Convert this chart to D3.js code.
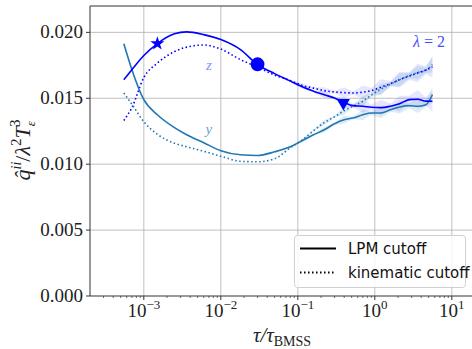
<!DOCTYPE html>
<meta charset="utf-8">
<style>
body { margin: 0; background: #fff; }
.serif { font-family: "Liberation Serif", "DejaVu Serif", serif; }
.grid line { stroke: #b0b0b0; stroke-width: 0.8px; }
</style>
<body>
<svg id="chart" width="472" height="349"></svg>
<script src="https://d3js.org/d3.v7.min.js"></script>
<script>

// time grid (tau / tau_BMSS) shared by all four curves
var tau = [5.5e-4, 7e-4, 1e-3, 1.5e-3, 2.5e-3, 3.6e-3, 6e-3, 1e-2, 1.8e-2, 3e-2, 5e-2, 8e-2,
           0.12, 0.16, 0.22, 0.3, 0.4, 0.52, 0.7, 0.9, 1.2, 1.6, 2.1, 2.8, 3.6, 4.6, 5.6];

// z direction
var zLPM = [0.01641, 0.01717, 0.01824, 0.01915, 0.01989, 0.02004, 0.01983, 0.01945, 0.01869, 0.01755, 0.01687, 0.01630,
            0.01581, 0.01554, 0.01527, 0.01502, 0.01468, 0.01444, 0.01440, 0.01432, 0.01429, 0.01440, 0.01459, 0.01490, 0.01493, 0.01478, 0.01477];
var zKin = [0.01332, 0.01429, 0.01657, 0.01767, 0.01854, 0.01888, 0.01904, 0.01873, 0.01793, 0.01736, 0.01676, 0.01634,
            0.01594, 0.01577, 0.01558, 0.01548, 0.01543, 0.01540, 0.01546, 0.01558, 0.01584, 0.01611, 0.01641, 0.01668, 0.01691, 0.01714, 0.01738];
// y direction
var yLPM = [0.01913, 0.01717, 0.01489, 0.01375, 0.01277, 0.01223, 0.01163, 0.01102, 0.01071, 0.01066, 0.01094, 0.01132,
            0.01185, 0.01223, 0.01261, 0.01307, 0.01337, 0.01350, 0.01375, 0.01388, 0.01388, 0.01413, 0.01434, 0.01444, 0.01439, 0.01451, 0.01527];
var yKin = [0.01540, 0.01455, 0.01322, 0.01227, 0.01159, 0.01132, 0.01098, 0.01060, 0.01022, 0.01018, 0.01041, 0.01125,
            0.01193, 0.01254, 0.01315, 0.01360, 0.01406, 0.01440, 0.01478, 0.01524, 0.01569, 0.01607, 0.01641, 0.01672, 0.01695, 0.01712, 0.01755];

// error band half widths (noisy at late times)
var spreadZ = [0, 0, 0, 0, 0, 0, 0, 0, 0, 0, 0.00003, 0.00006,
               0.00015, 0.00005, 0.00025, 0.0001, 0.0004, 0.00012, 0.0005, 0.0002, 0.0006, 0.0002, 0.0006, 0.0003, 0.0007, 0.0003, 0.0008];
var spreadY = [0, 0, 0, 0, 0, 0, 0, 0, 0, 0, 0.00002, 0.00005,
               0.0001, 0.00005, 0.0002, 0.00008, 0.0003, 0.0001, 0.0004, 0.00015, 0.0004, 0.00015, 0.0005, 0.0002, 0.0005, 0.0002, 0.0006];

// markers on the z / LPM curve
var markTau = [1.5e-3, 3e-2, 0.39];
var markVal = [0.01915, 0.01758, 0.01465];
var markShape = ["star", "circle", "tri"];

var xTicks = [1e-3, 1e-2, 1e-1, 1, 10];
var xTickExp = ["\u22123", "\u22122", "\u22121", "0", "1"];
var yTicks = [0, 0.005, 0.010, 0.015, 0.020];

var blue = "#0000ff", teal = "#1f77b4";
var dotted = "1.5,2.5";

var svg = d3.select("#chart");
var pLeft = 90, pRight = 475, pTop = 6, pBottom = 296;

var x = d3.scaleLog().domain([2e-4, 20]).range([pLeft, pRight]);
var y = d3.scaleLinear().domain([0, 0.022]).range([pBottom, pTop]);

svg.append("defs").append("clipPath").attr("id", "clip")
  .append("rect").attr("x", pLeft).attr("y", pTop).attr("width", pRight - pLeft).attr("height", pBottom - pTop);

// grid
var grid = svg.append("g").attr("class", "grid");
grid.selectAll(".gx").data(xTicks).enter().append("line")
  .attr("x1", d => x(d)).attr("x2", d => x(d)).attr("y1", pTop).attr("y2", pBottom);
grid.selectAll(".gy").data(yTicks.slice(1)).enter().append("line")
  .attr("x1", pLeft).attr("x2", pRight).attr("y1", d => y(d)).attr("y2", d => y(d));

var plot = svg.append("g").attr("clip-path", "url(#clip)");

var pts = function(vals, spread) {
  return tau.map(function(t, i) { return {t: t, v: vals[i], s: spread ? spread[i] : 0}; });
};

var area = d3.area().x(d => x(d.t)).y0(d => y(d.v - d.s)).y1(d => y(d.v + d.s));
var line = d3.line().x(d => x(d.t)).y(d => y(d.v)).curve(d3.curveMonotoneX);

var series = [
  {vals: zKin, spread: spreadZ, color: blue, fill: "rgba(100,100,255,0.16)", dash: dotted},
  {vals: yKin, spread: spreadY, color: teal, fill: "rgba(31,119,180,0.14)", dash: dotted},
  {vals: yLPM, spread: spreadY, color: teal, fill: "rgba(31,119,180,0.14)", dash: null},
  {vals: zLPM, spread: spreadZ, color: blue, fill: "rgba(100,100,255,0.16)", dash: null}
];

series.forEach(function(s) {
  plot.append("path").datum(pts(s.vals, s.spread))
    .attr("d", area).attr("fill", s.fill).attr("stroke", "none");
});
series.forEach(function(s) {
  plot.append("path").datum(pts(s.vals))
    .attr("d", line).attr("fill", "none").attr("stroke", s.color)
    .attr("stroke-width", 1.6)
    .attr("stroke-dasharray", s.dash);
});

// markers
var symFor = {star: d3.symbol().type(d3.symbolStar).size(62),
              circle: d3.symbol().type(d3.symbolCircle).size(150),
              tri: d3.symbol().type(d3.symbolTriangle).size(75)};
markTau.forEach(function(t, i) {
  plot.append("path").attr("d", symFor[markShape[i]]())
    .attr("transform", "translate(" + x(t) + "," + y(markVal[i]) + ")" + (markShape[i] == "tri" ? " rotate(180)" : ""))
    .attr("fill", blue);
});

// curve labels
plot.append("text").attr("class", "serif").attr("x", x(7e-3)).attr("y", y(0.01743) + 4)
  .attr("text-anchor", "middle").attr("font-size", 15).attr("font-style", "italic")
  .attr("fill", "rgba(60,60,255,0.6)").text("z");
plot.append("text").attr("class", "serif").attr("x", x(7e-3)).attr("y", y(0.01262) + 4)
  .attr("text-anchor", "middle").attr("font-size", 15).attr("font-style", "italic")
  .attr("fill", "rgba(31,119,180,0.7)").text("y");

var lam = svg.append("text").attr("class", "serif").attr("x", 445).attr("y", 47)
  .attr("text-anchor", "end").attr("font-size", 16).attr("fill", "#4a4aff");
lam.append("tspan").attr("font-style", "italic").text("\u03bb");
lam.append("tspan").text(" = 2");

// spines
svg.append("line").attr("x1", pLeft).attr("x2", pLeft).attr("y1", pTop).attr("y2", pBottom).attr("stroke", "#333").attr("stroke-width", 1);
svg.append("line").attr("x1", pLeft).attr("x2", pRight).attr("y1", pBottom).attr("y2", pBottom).attr("stroke", "#333").attr("stroke-width", 1);
svg.append("line").attr("x1", pLeft).attr("x2", pRight).attr("y1", pTop).attr("y2", pTop).attr("stroke", "#333").attr("stroke-width", 1);

// y ticks
yTicks.forEach(function(d) {
  svg.append("line").attr("x1", pLeft - 4).attr("x2", pLeft).attr("y1", y(d)).attr("y2", y(d)).attr("stroke", "#333");
  svg.append("text").attr("class", "serif").attr("x", pLeft - 7).attr("y", y(d) + 6)
    .attr("text-anchor", "end").attr("font-size", 19).attr("fill", "#222").text(d3.format(".3f")(d));
});

// x ticks, major and minor
var minor = [];
for (var e = -4; e <= 1; e++) {
  for (var m = 2; m <= 9; m++) {
    var v = m * Math.pow(10, e);
    if (v > 2e-4 && v < 20) minor.push(v);
  }
}
minor.forEach(function(d) {
  svg.append("line").attr("x1", x(d)).attr("x2", x(d)).attr("y1", pBottom).attr("y2", pBottom + 2).attr("stroke", "#333").attr("stroke-width", 0.7);
});
xTicks.forEach(function(d, i) {
  svg.append("line").attr("x1", x(d)).attr("x2", x(d)).attr("y1", pBottom).attr("y2", pBottom + 4).attr("stroke", "#333");
  var t = svg.append("text").attr("class", "serif").attr("x", x(d)).attr("y", 317)
    .attr("text-anchor", "middle").attr("font-size", 19).attr("fill", "#222");
  t.append("tspan").text("10");
  t.append("tspan").attr("font-size", 13).attr("dy", -8).text(xTickExp[i]);
});

// axis labels
var xl = svg.append("text").attr("class", "serif").attr("x", 282).attr("y", 342)
  .attr("text-anchor", "middle").attr("font-size", 21).attr("fill", "#222");
xl.append("tspan").attr("font-style", "italic").text("\u03c4/\u03c4");
xl.append("tspan").attr("font-size", 14).attr("dy", 4).text("BMSS");

var yl = svg.append("text").attr("class", "serif").attr("transform", "translate(30,150) rotate(-90)")
  .attr("text-anchor", "middle").attr("font-size", 22).attr("fill", "#222");
yl.append("tspan").attr("font-style", "italic").text("q\u0302");
yl.append("tspan").attr("font-style", "italic").attr("font-size", 14).attr("dy", -9).text("ii");
yl.append("tspan").attr("dy", 9).text("/");
yl.append("tspan").attr("font-style", "italic").text("\u03bb");
yl.append("tspan").attr("font-size", 15).attr("dy", -9).text("2");
yl.append("tspan").attr("font-style", "italic").attr("dy", 9).text("T");
yl.append("tspan").attr("font-style", "italic").attr("font-size", 13).attr("dy", 5).text("\u03b5");
yl.append("tspan").attr("font-size", 15).attr("dx", -6).attr("dy", -15).text("3");

// legend
var lg = svg.append("g");
lg.append("rect").attr("x", 294.5).attr("y", 235.5).attr("width", 171).attr("height", 52)
  .attr("rx", 3).attr("fill", "rgba(255,255,255,0.8)").attr("stroke", "#d0d0d0");
var legItems = ["LPM cutoff", "kinematic cutoff"];
legItems.forEach(function(name, i) {
  var ly = 248.5 + i * 24;
  lg.append("line").attr("x1", 300).attr("x2", 336).attr("y1", ly).attr("y2", ly)
    .attr("stroke", "#000").attr("stroke-width", 1.8)
    .attr("stroke-dasharray", i ? dotted : null);
  lg.append("text").attr("x", 348).attr("y", ly + 5.5)
    .attr("font-family", "DejaVu Sans, sans-serif").attr("font-size", 15).attr("fill", "#111").text(name);
});
</script>
</body>
